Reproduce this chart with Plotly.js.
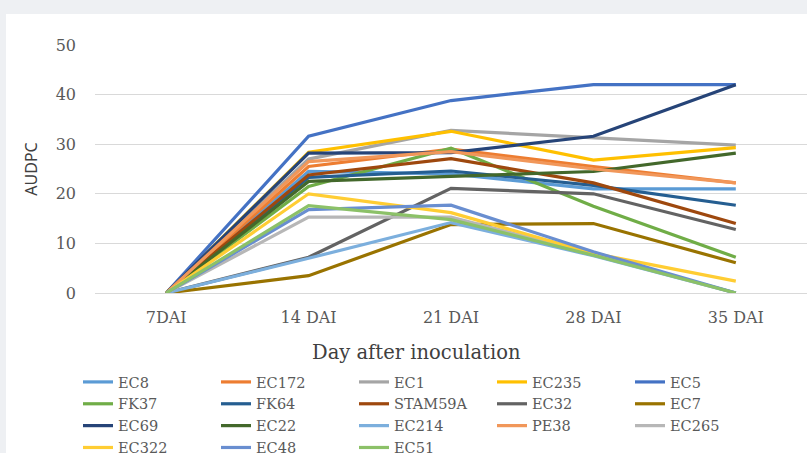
<!DOCTYPE html>
<html>
<head>
<meta charset="utf-8">
<script src="https://cdn.plot.ly/plotly-3.0.1.min.js"></script>
<style>
  html, body { margin: 0; padding: 0; background: #eef0f3; width: 807px; height: 453px; overflow: hidden; }
  #chart { position: absolute; left: 6px; top: 14px; width: 801px; height: 439px; background: #ffffff; }
</style>
</head>
<body>
<div id="chart"></div>
<script>
// AUDPC by isolate, sampled at each day after inoculation
const categories = ['7DAI', '14 DAI', '21 DAI', '28 DAI', '35 DAI'];

const EC8     = [0, 24.5, 24.0, 21.0, 21.0];
const EC172   = [0, 25.5, 29.0, 25.5, 22.2];
const EC1     = [0, 27.0, 32.8, 31.3, 29.8];
const EC235   = [0, 28.4, 32.6, 26.8, 29.3];
const EC5     = [0, 31.6, 38.8, 42.0, 42.0];
const FK37    = [0, 21.5, 29.2, 17.5, 7.2];
const FK64    = [0, 23.3, 24.6, 21.7, 17.7];
const STAM59A = [0, 23.8, 27.1, 22.2, 14.0];
const EC32    = [0, 7.2, 21.1, 20.0, 12.8];
const EC7     = [0, 3.5, 13.8, 14.0, 6.1];
const EC69    = [0, 28.2, 28.3, 31.6, 42.0];
const EC22    = [0, 22.5, 23.5, 24.5, 28.2];
const EC214   = [0, 7.0, 14.2, 7.5, 0];
const PE38    = [0, 26.5, 28.5, 25.0, 22.2];
const EC265   = [0, 15.3, 15.3, 7.8, 0];
const EC322   = [0, 20.0, 16.2, 8.0, 2.4];
const EC48    = [0, 16.8, 17.7, 8.3, 0];
const EC51    = [0, 17.6, 14.8, 7.6, 0];

const seriesNames = ['EC8', 'EC172', 'EC1', 'EC235', 'EC5', 'FK37', 'FK64', 'STAM59A', 'EC32',
                     'EC7', 'EC69', 'EC22', 'EC214', 'PE38', 'EC265', 'EC322', 'EC48', 'EC51'];
const seriesValues = [EC8, EC172, EC1, EC235, EC5, FK37, FK64, STAM59A, EC32,
                      EC7, EC69, EC22, EC214, PE38, EC265, EC322, EC48, EC51];
const seriesColors = ['#5b9bd5', '#ed7d31', '#a5a5a5', '#ffc000', '#4472c4', '#70ad47', '#255e91',
                      '#9e480e', '#636363', '#997300', '#264478', '#43682b', '#7cafdd', '#f1975a',
                      '#b7b7b7', '#ffcd33', '#698ed0', '#8cc168'];

const traces = seriesNames.map((name, i) => ({
  type: 'scatter',
  mode: 'lines',
  name: name,
  x: categories,
  y: seriesValues[i],
  line: { color: seriesColors[i], width: 3.2 }
}));

const serif = 'DejaVu Serif, Liberation Serif, serif';
const layout = {
  width: 801,
  height: 439,
  margin: { l: 89, r: 0, t: 31, b: 160 },
  paper_bgcolor: '#ffffff',
  plot_bgcolor: '#ffffff',
  showlegend: true,
  xaxis: {
    type: 'category',
    range: [-0.5, 4.5],
    showgrid: false,
    showline: false,
    zeroline: false,
    ticks: '',
    ticklabelstandoff: 13,
    tickfont: { family: serif, size: 16, color: '#595959' }
  },
  yaxis: {
    range: [0, 50],
    dtick: 10,
    showgrid: true,
    gridcolor: '#d9d9d9',
    gridwidth: 1,
    zeroline: true,
    zerolinecolor: '#d9d9d9',
    zerolinewidth: 1,
    showline: false,
    ticks: '',
    ticklabelstandoff: 18,
    tickfont: { family: serif, size: 16, color: '#595959' },
    title: { text: 'AUDPC', standoff: 14, font: { family: 'Noto Sans, DejaVu Sans, sans-serif', size: 16, color: '#404040' } }
  },
  annotations: [{
    text: 'Day after inoculation',
    xref: 'paper', yref: 'paper',
    x: 0.452, y: -0.238,
    xanchor: 'center', yanchor: 'middle',
    showarrow: false,
    font: { family: serif, size: 19.5, color: '#404040' }
  }],
  legend: {
    orientation: 'h',
    xref: 'container', yref: 'container',
    x: 72 / 801, y: 1 - 352 / 439,
    xanchor: 'left', yanchor: 'top',
    entrywidth: 93,
    entrywidthmode: 'pixels',
    traceorder: 'normal',
    bgcolor: 'rgba(0,0,0,0)',
    font: { family: serif, size: 14.5, color: '#595959' },
    tracegroupgap: 0
  }
};

Plotly.newPlot('chart', traces, layout, { staticPlot: true, displayModeBar: false });
</script>
</body>
</html>
